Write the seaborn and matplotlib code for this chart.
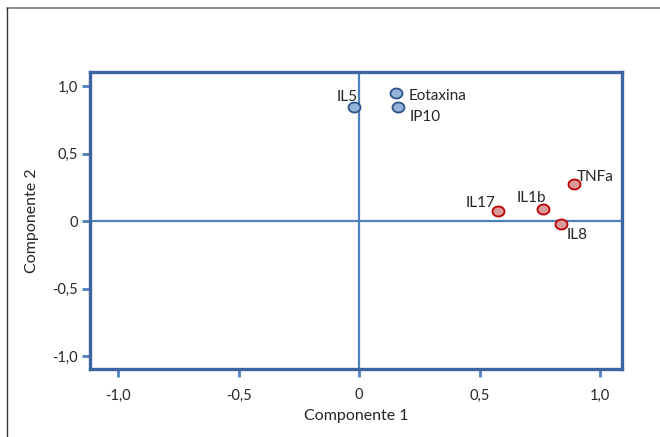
import seaborn as sns
import matplotlib.pyplot as plt
import numpy as np
import pandas as pd
from matplotlib.lines import Line2D

# loadings
names = ["IL5", "Eotaxina", "IP10", "TNFa", "IL1b", "IL17", "IL8"]
comp1 = [-0.02, 0.154, 0.162, 0.892, 0.763, 0.577, 0.838]
comp2 = [0.845, 0.948, 0.845, 0.274, 0.089, 0.074, -0.022]
group = ["a", "a", "a", "b", "b", "b", "b"]

tick_vals = [-1.0, -0.5, 0, 0.5, 1.0]
tick_labels = ["-1,0", "-0,5", "0", "0,5", "1,0"]

# label offsets in points (dx, dy, ha, va)
label_pos = {
    "IL5": (2.5, 2, "right", "bottom"),
    "Eotaxina": (9, -2, "left", "center"),
    "IP10": (8, -7, "left", "center"),
    "TNFa": (2, 0, "left", "bottom"),
    "IL1b": (2, 3, "right", "bottom"),
    "IL17": (-2, 1, "right", "bottom"),
    "IL8": (4, -3, "left", "top"),
}

sns.set_theme(style="white")
plt.rcParams["font.family"] = ["Lato", "DejaVu Sans"]

df = pd.DataFrame({"name": names, "c1": comp1, "c2": comp2, "g": group})

fig = plt.figure(figsize=(6.6, 4.37), dpi=100)
ax = fig.add_axes([0.1364, 0.1556, 0.806, 0.6796])

spine_col = "#3b64a0"
line_col = "#4f81bd"
txt_col = "#262626"

ax.axhline(0, color=line_col, lw=1.6, zorder=1)
ax.axvline(0, color=line_col, lw=1.6, zorder=1)

t = np.linspace(0, 2 * np.pi, 40)
ellipse = np.column_stack([1.2 * np.cos(t), np.sin(t)])

styles = {"a": ("#94b3d9", "#2e528a"), "b": ("#d99a9a", "#c00000")}
for g, (fc, ec) in styles.items():
    sub = df[df["g"] == g]
    sns.scatterplot(data=sub, x="c1", y="c2", ax=ax, color=fc, edgecolor=ec,
                    linewidth=1.3, s=75, marker=ellipse, zorder=3, legend=False)

for n, x, y in zip(names, comp1, comp2):
    dx, dy, ha, va = label_pos[n]
    ax.annotate(n, (x, y), xytext=(dx, dy), textcoords="offset points",
                ha=ha, va=va, fontsize=11, color=txt_col)

ax.set_xlim(-1.116, 1.091)
ax.set_ylim(-1.096, 1.104)
ax.set_xticks(tick_vals)
ax.set_xticklabels(tick_labels)
ax.set_yticks(tick_vals)
ax.set_yticklabels(tick_labels)
ax.tick_params(axis="both", direction="out", length=6, width=2, color=line_col,
               labelsize=10.5, labelcolor=txt_col, bottom=True, left=True)
ax.tick_params(axis="x", pad=8)
ax.tick_params(axis="y", pad=3)

for sp in ax.spines.values():
    sp.set_color(spine_col)
    sp.set_linewidth(2.4)

ax.set_xlabel("Componente 1", fontsize=11.5, color=txt_col, labelpad=5)
ax.set_ylabel("Componente 2", fontsize=11.5, color=txt_col, labelpad=9)

# partial outer frame of the screenshot
fig.add_artist(Line2D([7 / 660, 1], [1 - 8 / 437, 1 - 8 / 437], color="#777777", lw=1.2))
fig.add_artist(Line2D([7 / 660, 7 / 660], [0, 1 - 8 / 437], color="#333333", lw=1.0))

fig.savefig("out.png", dpi=100)
